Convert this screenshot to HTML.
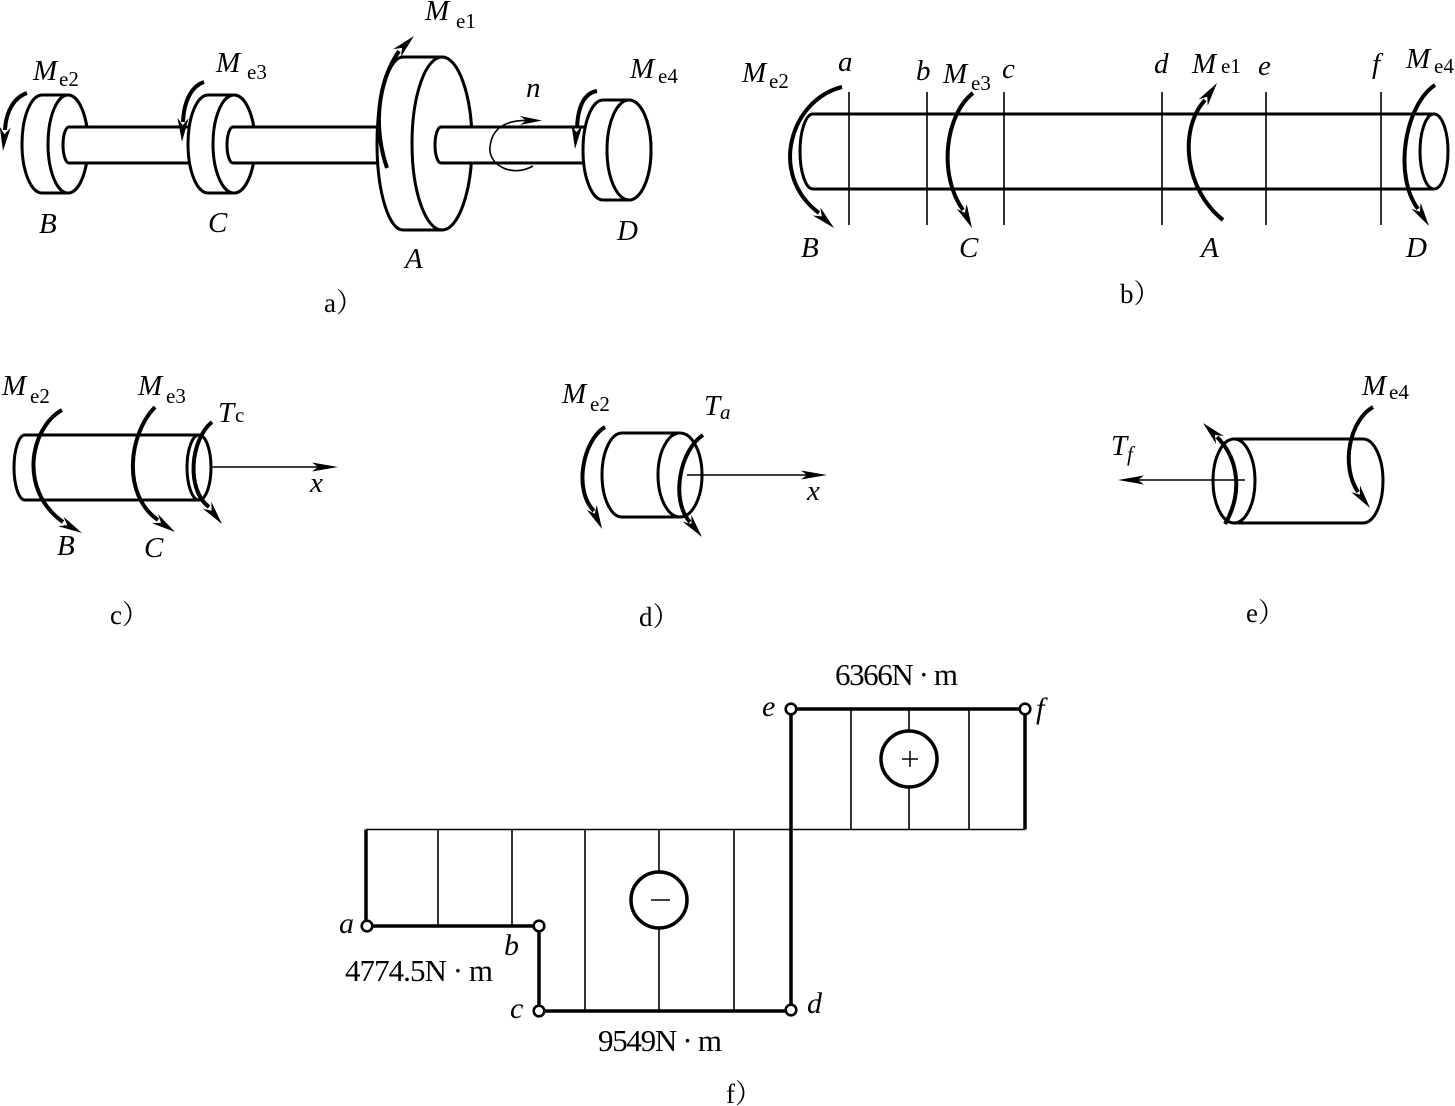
<!DOCTYPE html>
<html><head><meta charset="utf-8">
<style>
html,body{margin:0;padding:0;background:#fff;}
svg{display:block;}
text{font-family:"Liberation Serif","Noto Serif CJK SC",serif;fill:#000;stroke:none;}
.i{font-style:italic;}
</style></head><body>
<svg width="1455" height="1106" viewBox="0 0 1455 1106" xmlns="http://www.w3.org/2000/svg">

<!-- ============ Figure a ============ -->
<g fill="#fff" stroke="#000" stroke-width="3" stroke-linejoin="round">
 <path d="M42 95 L68 95 A20 49 0 0 1 68 193 L42 193 A20 49 0 0 1 42 95 Z"/>
 <ellipse cx="68" cy="144" rx="20" ry="49"/>
 <path d="M69 127 L200 127 L200 163 L69 163 A6 18 0 0 1 69 127 Z"/>
 <path d="M208 95 L234 95 A21 49 0 0 1 234 193 L208 193 A20 49 0 0 1 208 95 Z"/>
 <ellipse cx="234" cy="144" rx="21" ry="49"/>
 <path d="M233 127 L390 127 L390 163 L233 163 A6 18 0 0 1 233 127 Z"/>
 <path d="M403 57 L442 57 A30 86.5 0 0 1 442 230 L403 230 A26 86.5 0 0 1 403 57 Z"/>
 <ellipse cx="442" cy="143.5" rx="30" ry="86.5"/>
 <path d="M441 127 L595 127 L595 163 L441 163 A6 18 0 0 1 441 127 Z"/>
 <path d="M603 100 L629 100 A22 50 0 0 1 629 200 L603 200 A20 50 0 0 1 603 100 Z"/>
 <ellipse cx="629" cy="150" rx="22" ry="50"/>
</g>
<g fill="none" stroke="#000" stroke-width="4">
 <path d="M27 93 C15 97, 6 110, 5 130"/>
 <path d="M204 82 C192 86, 184 100, 183 122"/>
 <path d="M387 168 C374 130, 376 85, 399 51"/>
 <path d="M597 91 C585 93, 578 105, 577 128"/>
</g>
<g fill="#000" stroke="none">
 <polygon points="3,151 -0.3,126.6 4.5,134.3 10.7,127.6"/>
 <polygon points="182,142 177.5,117.8 182.7,125.2 188.5,118.2"/>
 <polygon points="414,36 400.9,56.9 402.1,47.9 393.1,49.1"/>
 <polygon points="575,149 571.4,124.6 576.3,132.2 582.4,125.4"/>
 <polygon points="542,120.5 520,116 526,120.5 520,125"/>
</g>
<path d="M533 166 C512 178, 488 165, 490 147 C492 128, 505 120, 528 120.5" fill="none" stroke="#000" stroke-width="1.6"/>

<text class="i" x="33" y="80" font-size="29">M</text><text x="59" y="86" font-size="21">e2</text>
<text class="i" x="216" y="72" font-size="29">M</text><text x="247" y="79" font-size="21">e3</text>
<text class="i" x="425" y="20" font-size="29">M</text><text x="456" y="28" font-size="21">e1</text>
<text class="i" x="630" y="78" font-size="29">M</text><text x="658" y="83" font-size="21">e4</text>
<text class="i" x="526" y="97" font-size="29">n</text>
<text class="i" x="39" y="233" font-size="29">B</text>
<text class="i" x="208" y="232" font-size="29">C</text>
<text class="i" x="405" y="268" font-size="29">A</text>
<text class="i" x="617" y="240" font-size="29">D</text>
<text x="324" y="312" font-size="27">a）</text>

<!-- ============ Figure b ============ -->
<g fill="none" stroke="#000" stroke-width="3">
 <path d="M813 114 A13 37.5 0 0 0 813 189"/>
 <path d="M813 114 L1434 114 M813 189 L1434 189"/>
 <ellipse cx="1434" cy="151.5" rx="14" ry="37.5" fill="#fff"/>
</g>
<g stroke="#000" stroke-width="1.6">
 <line x1="849" y1="92" x2="849" y2="225"/>
 <line x1="927" y1="92" x2="927" y2="225"/>
 <line x1="1004" y1="92" x2="1004" y2="225"/>
 <line x1="1162" y1="92" x2="1162" y2="225"/>
 <line x1="1266" y1="92" x2="1266" y2="225"/>
 <line x1="1381" y1="92" x2="1381" y2="225"/>
</g>
<g fill="none" stroke="#000" stroke-width="4">
 <path d="M842 87 C790 100, 768 175, 819 213"/>
 <path d="M973 93 C945 115, 938 175, 963 210"/>
 <path d="M1223 220 C1185 190, 1178 130, 1205 100"/>
 <path d="M1435 85 C1405 105, 1393 175, 1418 209"/>
</g>
<g fill="#000">
 <polygon points="834,228 812.8,215.5 821.8,216.4 820.4,207.5"/>
 <polygon points="972,228 956.7,208.8 964.8,212.9 966.7,204"/>
 <polygon points="1217,83 1207.7,105.8 1207.3,96.7 1198.7,99.4"/>
 <polygon points="1429,226 1411.4,208.8 1419.9,211.9 1420.6,202.8"/>
</g>
<text class="i" x="742" y="82" font-size="29">M</text><text x="769" y="88" font-size="21">e2</text>
<text class="i" x="838" y="71" font-size="29">a</text>
<text class="i" x="916" y="80" font-size="29">b</text>
<text class="i" x="943" y="83" font-size="29">M</text><text x="971" y="90" font-size="21">e3</text>
<text class="i" x="1002" y="78" font-size="29">c</text>
<text class="i" x="1154" y="73" font-size="29">d</text>
<text class="i" x="1192" y="73" font-size="29">M</text><text x="1221" y="73" font-size="21">e1</text>
<text class="i" x="1258" y="75" font-size="29">e</text>
<text class="i" x="1372" y="73" font-size="29">f</text>
<text class="i" x="1406" y="68" font-size="29">M</text><text x="1434" y="73" font-size="21">e4</text>
<text class="i" x="801" y="257" font-size="29">B</text>
<text class="i" x="959" y="257" font-size="29">C</text>
<text class="i" x="1201" y="257" font-size="29">A</text>
<text class="i" x="1406" y="257" font-size="29">D</text>
<text x="1120" y="303" font-size="27">b）</text>

<!-- ============ Figure c ============ -->
<g fill="none" stroke="#000" stroke-width="3">
 <path d="M25 435 A11 32.5 0 0 0 25 500"/>
 <path d="M25 435 L199 435 M25 500 L199 500"/>
 <ellipse cx="199" cy="467.5" rx="12" ry="32.5"/>
</g>
<line x1="212" y1="467" x2="330" y2="467" stroke="#000" stroke-width="1.6"/>
<polygon points="338,467 312,462.5 318,467 312,471.5" fill="#000"/>
<g fill="none" stroke="#000" stroke-width="4">
 <path d="M62 410 C30 428, 18 490, 63 522"/>
 <path d="M155 407 C128 435, 122 495, 158 520"/>
 <path d="M212 422 C190 440, 186 490, 209 507"/>
</g>
<g fill="#000">
 <polygon points="82,533 58.3,526.3 67.3,525 63.5,516.7"/>
 <polygon points="175,532 152,523.3 161,522.7 158,514.1"/>
 <polygon points="222,524 202.8,508.6 211.6,510.8 211.4,501.8"/>
</g>
<text class="i" x="2" y="395" font-size="29">M</text><text x="30" y="403" font-size="21">e2</text>
<text class="i" x="138" y="395" font-size="29">M</text><text x="166" y="403" font-size="21">e3</text>
<text class="i" x="218" y="422" font-size="29">T</text><text x="235" y="422" font-size="21">c</text>
<text class="i" x="310" y="492" font-size="29">x</text>
<text class="i" x="57" y="555" font-size="29">B</text>
<text class="i" x="144" y="557" font-size="29">C</text>
<text x="110" y="624" font-size="27">c）</text>

<!-- ============ Figure d ============ -->
<g fill="none" stroke="#000" stroke-width="3">
 <path d="M622 433 A20 42 0 0 0 622 517"/>
 <path d="M622 433 L680 433 M622 517 L680 517"/>
 <ellipse cx="680" cy="475" rx="22" ry="42"/>
</g>
<line x1="687" y1="475" x2="820" y2="475" stroke="#000" stroke-width="1.6"/>
<polygon points="827,475 801,470.5 807,475 801,479.5" fill="#000"/>
<g fill="none" stroke="#000" stroke-width="4">
 <path d="M703 435 C680 450, 670 500, 690 522"/>
 <path d="M605 427 C583 440, 573 490, 594 511"/>
</g>
<g fill="#000">
 <polygon points="702,537 682.7,521.7 691.5,523.9 691.3,514.9"/>
 <polygon points="602,529 586.7,509.7 594.8,513.8 596.7,504.9"/>
</g>
<text class="i" x="562" y="403" font-size="29">M</text><text x="590" y="411" font-size="21">e2</text>
<text class="i" x="704" y="415" font-size="29">T</text><text class="i" x="720" y="419" font-size="21">a</text>
<text class="i" x="807" y="500" font-size="29">x</text>
<text x="639" y="626" font-size="27">d）</text>

<!-- ============ Figure e ============ -->
<g fill="none" stroke="#000" stroke-width="3">
 <ellipse cx="1234" cy="481" rx="21" ry="42"/>
 <path d="M1234 439 L1363 439 M1234 523 L1363 523"/>
 <path d="M1363 439 A20 42 0 0 1 1363 523"/>
</g>
<line x1="1245" y1="480" x2="1125" y2="480" stroke="#000" stroke-width="1.6"/>
<polygon points="1118,480 1144,475.5 1138,480 1144,484.5" fill="#000"/>
<g fill="none" stroke="#000" stroke-width="4">
 <path d="M1225 524 C1242 495, 1240 460, 1217 437"/>
 <path d="M1373 407 C1350 420, 1340 465, 1358 492"/>
</g>
<g fill="#000">
 <polygon points="1203,423 1223.9,436.1 1214.9,434.9 1216.1,443.9"/>
 <polygon points="1370,508 1351.2,492.1 1359.9,494.6 1360,485.5"/>
</g>
<text class="i" x="1111" y="455" font-size="29">T</text><text class="i" x="1127" y="461" font-size="21">f</text>
<text class="i" x="1362" y="395" font-size="29">M</text><text x="1389" y="399" font-size="21">e4</text>
<text x="1246" y="622" font-size="27">e）</text>

<!-- ============ Figure f ============ -->
<g stroke="#000" stroke-width="1.6" fill="none">
 <line x1="366" y1="829.5" x2="1025" y2="829.5"/>
 <line x1="438" y1="829.5" x2="438" y2="926"/>
 <line x1="512" y1="829.5" x2="512" y2="926"/>
 <line x1="585" y1="829.5" x2="585" y2="1011"/>
 <line x1="659" y1="829.5" x2="659" y2="1011"/>
 <line x1="734" y1="829.5" x2="734" y2="1011"/>
 <line x1="851" y1="709" x2="851" y2="829.5"/>
 <line x1="909" y1="709" x2="909" y2="829.5"/>
 <line x1="969" y1="709" x2="969" y2="829.5"/>
</g>
<path d="M366 829.5 L366 926 L539 926 L539 1011 L791 1011 L791 709 L1025 709 L1025 829.5" fill="none" stroke="#000" stroke-width="3.5" stroke-linejoin="miter"/>
<g fill="#fff" stroke="#000" stroke-width="3.5">
 <circle cx="659" cy="900" r="28"/>
 <circle cx="909" cy="759" r="28"/>
</g>
<g stroke="#000" stroke-width="1.5">
 <line x1="651" y1="900" x2="670" y2="900"/>
 <line x1="902" y1="759" x2="918" y2="759"/>
 <line x1="910" y1="751" x2="910" y2="767"/>
</g>
<g fill="#fff" stroke="#000" stroke-width="2.6">
 <circle cx="367" cy="926" r="5.3"/>
 <circle cx="539" cy="926" r="5.3"/>
 <circle cx="539" cy="1011" r="5.3"/>
 <circle cx="791" cy="1010" r="5.3"/>
 <circle cx="791" cy="709" r="5.3"/>
 <circle cx="1025" cy="709" r="5.3"/>
</g>
<text class="i" x="339" y="933" font-size="30">a</text>
<text class="i" x="504" y="955" font-size="30">b</text>
<text class="i" x="510" y="1018" font-size="30">c</text>
<text class="i" x="807" y="1013" font-size="30">d</text>
<text class="i" x="762" y="716" font-size="30">e</text>
<text class="i" x="1036" y="718" font-size="30">f</text>
<text x="345" y="981" font-size="31" textLength="148" lengthAdjust="spacing">4774.5N · m</text>
<text x="598" y="1051" font-size="31" textLength="124" lengthAdjust="spacing">9549N · m</text>
<text x="835" y="685" font-size="31" textLength="123" lengthAdjust="spacing">6366N · m</text>
<text x="726" y="1103" font-size="27">f）</text>

</svg>
</body></html>
